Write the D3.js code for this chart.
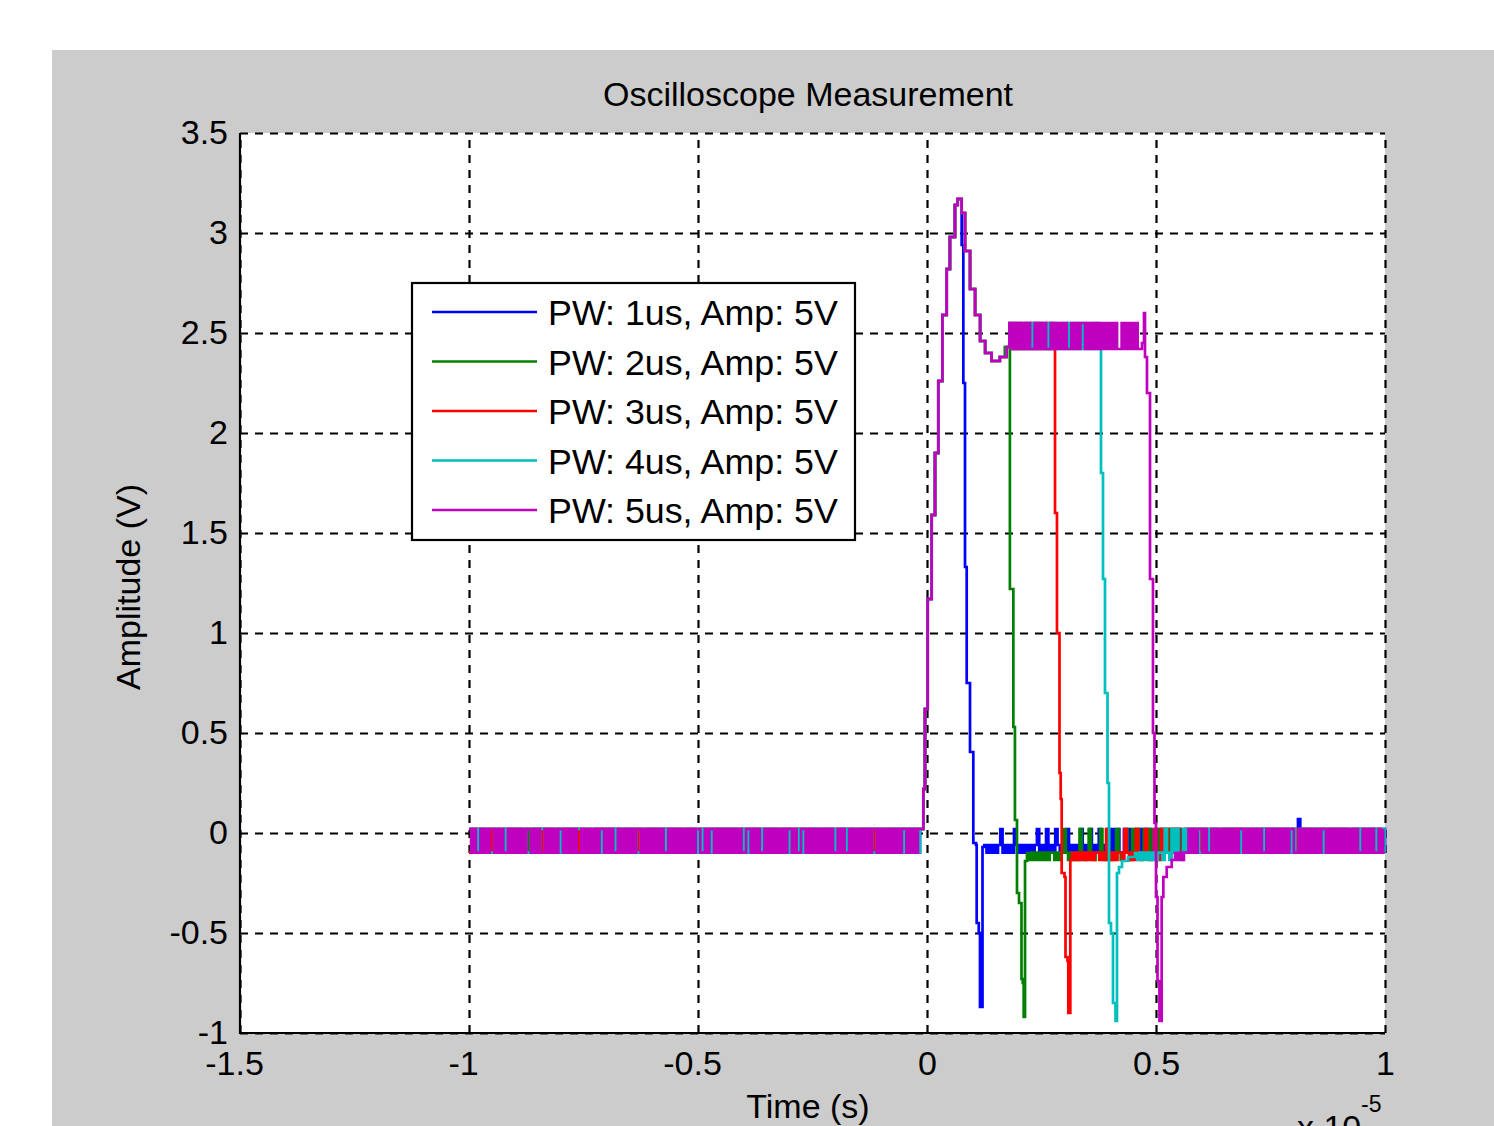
<!DOCTYPE html>
<html>
<head>
<meta charset="utf-8">
<script src="https://cdn.jsdelivr.net/npm/d3@7"></script>
<style>
  html, body { margin: 0; padding: 0; background: #ffffff; }
  svg text { font-family: "Liberation Sans", Arial, Helvetica, sans-serif; fill: #000; }
</style>
</head>
<body>
<svg id="chart" width="1494" height="1126"></svg>
<script>
// ---------------- DATA (time in units of 1e-5 s, amplitude in V) ----------------
const chartTitle = "Oscilloscope Measurement";
const xLabel = "Time (s)";
const yLabel = "Amplitude (V)";
const xTicks = [-1.5, -1, -0.5, 0, 0.5, 1];
const xTickLabels = ["-1.5", "-1", "-0.5", "0", "0.5", "1"];
const yTicks = [-1, -0.5, 0, 0.5, 1, 1.5, 2, 2.5, 3, 3.5];
const yTickLabels = ["-1", "-0.5", "0", "0.5", "1", "1.5", "2", "2.5", "3", "3.5"];
const seriesNames = ["PW: 1us, Amp: 5V", "PW: 2us, Amp: 5V", "PW: 3us, Amp: 5V", "PW: 4us, Amp: 5V", "PW: 5us, Amp: 5V"];
const seriesColors = ["#0000ff", "#008000", "#ff0000", "#00bfbf", "#bf00bf"];

// scope sample interval (x 1e-5 s) and quantised levels of the noisy stretches
const sampleDt = 0.005;
const baseLevels = { "0": 0.02, "1": -0.098, "2": -0.135, "3": -0.06, "4": 0.07 };
const plateauLevels = { "0": 2.55, "1": 2.42 };

// shared leading edge and overshoot / settling
const riseEdge = [[-0.0153,0.02],[-0.008,0.22],[-0.0044,0.62],[0.0015,1.17],[0.0102,1.59],[0.0175,1.90],
  [0.0247,2.26],[0.0335,2.59],[0.043,2.82],[0.050,2.98],[0.061,3.14],[0.067,3.17]];
const settleEdge = [[0.0757,3.10],[0.083,2.91],[0.094,2.72],[0.105,2.59],[0.116,2.46],[0.127,2.40],
  [0.141,2.36],[0.159,2.38],[0.174,2.43]];

// trailing edges with undershoot
const blueFall = [[0.0757,2.94],[0.0793,2.25],[0.083,1.33],[0.0867,0.75],[0.0939,0.405],[0.1011,0.0],
  [0.1011,-0.05],[0.107,-0.06],[0.1085,-0.45],[0.113,-0.5],[0.1157,-0.87],[0.119,-0.87],[0.1212,-0.07]];
const greenFall = [[0.170,2.43],[0.181,1.22],[0.1885,0.53],[0.192,0.065],[0.1965,-0.3],[0.2009,-0.35],
  [0.2063,-0.73],[0.209,-0.75],[0.2111,-0.92],[0.214,-0.14],[0.2183,-0.1]];
const redFall = [[0.277,2.43],[0.2795,1.6],[0.2838,1.0],[0.2893,0.3],[0.2919,0.17],[0.2941,-0.2],
  [0.3002,-0.22],[0.3024,-0.62],[0.3068,-0.64],[0.3085,-0.9],[0.3111,-0.9],[0.3129,-0.135],[0.3166,-0.1]];
const cyanFall = [[0.377,2.43],[0.3799,1.8],[0.3843,1.27],[0.3886,0.7],[0.3941,0.25],[0.3974,-0.45],
  [0.4017,-0.5],[0.4061,-0.85],[0.4116,-0.94],[0.4138,-0.94],[0.4148,-0.2],[0.4192,-0.17],[0.4258,-0.14],
  [0.4389,-0.12],[0.4541,-0.1]];
const magentaFall = [[0.4694,2.45],[0.4738,2.6],[0.476,2.38],[0.4803,2.2],[0.4869,1.27],[0.4934,0.5],
  [0.4967,0.05],[0.5,-0.32],[0.5033,-0.74],[0.5076,-0.94],[0.5103,-0.94],[0.5124,-0.32],[0.516,-0.22],
  [0.5234,-0.17],[0.5343,-0.135],[0.5415,-0.1]];

// baseline noise before the pulse (one char per sample from t = -1)
const bluePre = "1010010101" + "0101101010" + "1010101010" + "0101010110" + "1001010101" + "0110101010" +
  "1010101001" + "0101011010" + "1010101010" + "0101100101" + "1010101010" + "0101010110" + "1010101001" +
  "0101011010" + "1010101010" + "0101010101" + "1001011010" + "0101010101" + "1010101010" + "1010101";
const greenPre = "0101010110" + "1010101001" + "0101101010" + "1010010101" + "0101010101" + "1001101010" +
  "0101010010" + "1010101101" + "0101010101" + "1010010110" + "0101101010" + "1010101001" + "0101010110" +
  "1010101010" + "0110010101" + "0101101010" + "1010101010" + "0101011010" + "1010100101" + "0101010";
const redPre = "1010101001" + "0110101010" + "1001011010" + "0101010101" + "1010010101" + "0101101010" +
  "1010101101" + "0101010010" + "1001101010" + "0101010101" + "1010011010" + "0101010101" + "0110101010" +
  "1001010101" + "0101010110" + "1010101010" + "0101001011" + "1010101010" + "0110101001" + "0101010";
const cyanPre = "0011010101" + "1010010110" + "0101011010" + "1001010101" + "0110101001" + "0101011010" +
  "1010100101" + "0101101010" + "1010010101" + "0110101100" + "1010101011" + "0100101010" + "1010110101" +
  "0101010010" + "1011010101" + "0010101101" + "0101010010" + "1010101101" + "0101001010" + "1010101";
const magentaPre = "0101101010" + "0101011010" + "1010100101" + "0110101010" + "0101010110" + "1010101001" +
  "0101101010" + "1010010101" + "0101011010" + "1010101010" + "0110100101" + "0101010101" + "1001010110" +
  "1010101010" + "0101100101" + "0101010101" + "1010110101" + "0101010010" + "1010101010" + "0101010";

// top-of-pulse noise (from t = 0.18)
const redPlateau = "01010110101010110101";
const cyanPlateau = "0101101010" + "1010010101" + "0110101010" + "1010110101";
const magentaPlateau = "0101010101" + "1010101101" + "0101011010" + "1001010101" + "0101010110" + "10101011";

// baseline after the pulse
const bluePost = "3131313013" + "1310313131" + "3130131013" + "1031310131" + "3101310131" + "0131010101" +
  "1010110101" + "0101101010" + "1010101101" + "0101010110" + "1010101010" + "0101101010" + "1010101001" +
  "0101010410" + "1010101011" + "0101010101" + "1010110101" + "010101";
const greenPost = "2121212121" + "1212101212" + "1201210121" + "1012012101" + "2101201011" + "0101101010" +
  "1010101101" + "0101010101" + "1011010101" + "0101010110" + "1010101010" + "0101101010" + "1010010101" +
  "0101010101" + "1010101010" + "010101";
const redPost = "2121212121" + "1212012121" + "1201212012" + "1012101201" + "0110101101" + "1010101010" +
  "0101101010" + "1010101101" + "0101010101" + "1010010101" + "0101101010" + "1010101010" + "0101010110" +
  "101010";
const cyanPost = "2121212121" + "1201201012" + "0101010110" + "1010101010" + "0101101010" + "1010101101" +
  "0101010101" + "1010010101" + "0101010110" + "1010101010" + "010101101";
const magentaPost = "2121101010" + "0101101010" + "1010101001" + "0101010110" + "1010101010" + "0110101010" +
  "1010010101" + "0101010101" + "1010101101" + "0";

const preStart = -1, plateauStart = 0.18;
const postStarts = [0.125, 0.223, 0.321, 0.459, 0.546];

// ---------------- BUILD ----------------
function samples(str, t0, levels, tStop) {
  return Array.from(str).map((c, i) => [t0 + i * sampleDt, levels[c]])
    .filter(d => d[0] < tStop - 1e-9);
}
const pre = s => samples(s, preStart, baseLevels, riseEdge[0][0]);
const post = (s, t0) => samples(s, t0, baseLevels, 1 + 1e-6);
const plat = (s, fall) => samples(s, plateauStart, plateauLevels, fall[0][0]);

const seriesData = [
  [...pre(bluePre), ...riseEdge, ...blueFall, ...post(bluePost, postStarts[0])],
  [...pre(greenPre), ...riseEdge, ...settleEdge.slice(0, 8), ...greenFall, ...post(greenPost, postStarts[1])],
  [...pre(redPre), ...riseEdge, ...settleEdge, ...plat(redPlateau, redFall), ...redFall, ...post(redPost, postStarts[2])],
  [...pre(cyanPre), ...riseEdge, ...settleEdge, ...plat(cyanPlateau, cyanFall), ...cyanFall, ...post(cyanPost, postStarts[3])],
  [...pre(magentaPre), ...riseEdge, ...settleEdge, ...plat(magentaPlateau, magentaFall), ...magentaFall, ...post(magentaPost, postStarts[4])]
];

// ---------------- DRAW ----------------
const svg = d3.select("#chart");
const W = 1494, H = 1126;
const L = 240, R = 1385, T = 133, B = 1033;

svg.append("rect").attr("x", 52).attr("y", 50).attr("width", W - 52).attr("height", H - 50).attr("fill", "#cccccc");
svg.append("rect").attr("x", L).attr("y", T).attr("width", R - L).attr("height", B - T).attr("fill", "#ffffff");

const x = d3.scaleLinear().domain([-1.5, 1]).range([L, R]);
const y = d3.scaleLinear().domain([-1, 3.5]).range([B, T]);

// grid
const gridX = svg.append("g").attr("transform", `translate(0,${B})`)
  .call(d3.axisBottom(x).tickValues(xTicks).tickSize(-(B - T)).tickFormat(""));
const gridY = svg.append("g").attr("transform", `translate(${L},0)`)
  .call(d3.axisLeft(y).tickValues(yTicks).tickSize(-(R - L)).tickFormat(""));
[gridX, gridY].forEach(g => {
  g.select(".domain").remove();
  g.selectAll(".tick line").attr("stroke", "#000").attr("stroke-width", 2.2).attr("stroke-dasharray", "8,7");
});

// data
const line = d3.line().x(d => x(d[0])).y(d => y(d[1])).curve(d3.curveStepAfter);
svg.append("g").selectAll("path").data(seriesData).join("path")
  .attr("d", line).attr("fill", "none")
  .attr("stroke", (d, i) => seriesColors[i]).attr("stroke-width", 2.7);

// axes (left & bottom solid lines with labels)
const axX = svg.append("g").attr("transform", `translate(0,${B})`)
  .call(d3.axisBottom(x).tickValues(xTicks).tickSize(0).tickPadding(18)
    .tickFormat((d, i) => xTickLabels[i]));
axX.select(".domain").remove();
axX.selectAll("text").attr("font-size", 34).attr("font-family", "Liberation Sans, Arial, sans-serif")
  .attr("fill", "#000").attr("dx", (d) => d < 0 ? -6 : 0);

const axY = svg.append("g").attr("transform", `translate(${L},0)`)
  .call(d3.axisLeft(y).tickValues(yTicks).tickSize(0).tickPadding(12)
    .tickFormat((d, i) => yTickLabels[i]));
axY.select(".domain").remove();
axY.selectAll("text").attr("font-size", 34).attr("font-family", "Liberation Sans, Arial, sans-serif")
  .attr("fill", "#000");

svg.append("line").attr("x1", L).attr("x2", L).attr("y1", T).attr("y2", B + 1).attr("stroke", "#000").attr("stroke-width", 2.2);
svg.append("line").attr("x1", L - 1).attr("x2", R).attr("y1", B).attr("y2", B).attr("stroke", "#000").attr("stroke-width", 2.2);

// titles
svg.append("text").attr("x", 808).attr("y", 106).attr("text-anchor", "middle").attr("font-size", 34).text(chartTitle);
svg.append("text").attr("x", 808).attr("y", 1118).attr("text-anchor", "middle").attr("font-size", 34).text(xLabel);
svg.append("text").attr("transform", "translate(140,587) rotate(-90)").attr("text-anchor", "middle")
  .attr("font-size", 34).text(yLabel);
svg.append("text").attr("x", 1297).attr("y", 1139).attr("font-size", 34).text("x 10");
svg.append("text").attr("x", 1361).attr("y", 1112).attr("font-size", 23).text("-5");

// legend
const lg = svg.append("g");
lg.append("rect").attr("x", 412).attr("y", 283).attr("width", 443).attr("height", 257)
  .attr("fill", "#fff").attr("stroke", "#000").attr("stroke-width", 2.2);
const rowY = d3.scalePoint().domain(seriesNames).range([312, 510]);
const items = lg.selectAll("g.item").data(seriesNames).join("g").attr("class", "item");
items.append("line").attr("x1", 432).attr("x2", 537)
  .attr("y1", d => rowY(d)).attr("y2", d => rowY(d))
  .attr("stroke", (d, i) => seriesColors[i]).attr("stroke-width", 2.5);
items.append("text").attr("x", 548).attr("y", d => rowY(d) + 13).attr("font-size", 35.8).text(d => d);
</script>
</body>
</html>
